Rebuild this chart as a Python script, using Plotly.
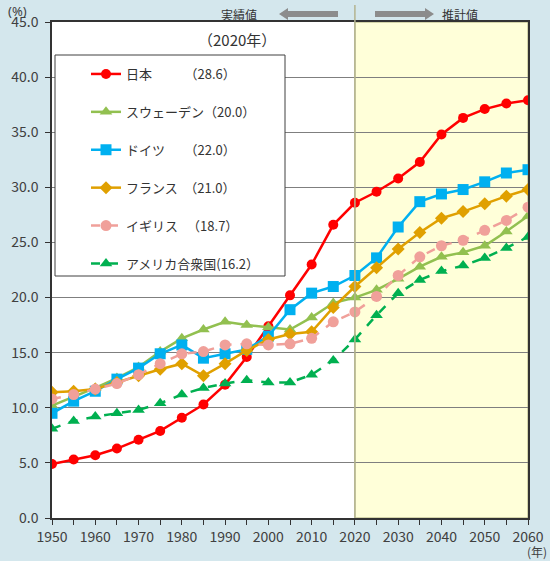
import plotly.graph_objects as go

# 高齢化率の推移（1950-2060）
years = list(range(1950, 2061, 5))

japan = [4.9, 5.3, 5.7, 6.3, 7.1, 7.9, 9.1, 10.3, 12.1, 14.6, 17.4, 20.2, 23.0, 26.6,
         28.6, 29.6, 30.8, 32.3, 34.8, 36.3, 37.1, 37.6, 37.9]
sweden = [10.2, 11.0, 11.8, 12.7, 13.7, 15.1, 16.3, 17.1, 17.8, 17.5, 17.3, 17.1, 18.2, 19.5,
          20.0, 20.7, 21.7, 22.8, 23.7, 24.1, 24.7, 26.0, 27.4]
germany = [9.5, 10.6, 11.5, 12.6, 13.6, 14.9, 15.7, 14.5, 14.9, 15.3, 16.5, 18.9, 20.4, 21.0,
           22.0, 23.6, 26.4, 28.7, 29.4, 29.8, 30.5, 31.3, 31.6]
france = [11.4, 11.5, 11.7, 12.3, 12.9, 13.5, 14.0, 12.9, 14.0, 15.2, 16.2, 16.7, 16.9, 19.1,
          21.0, 22.7, 24.4, 25.9, 27.2, 27.8, 28.5, 29.2, 29.8]
uk = [10.8, 11.2, 11.7, 12.2, 13.0, 14.0, 14.9, 15.1, 15.7, 15.8, 15.7, 15.8, 16.3, 17.8,
      18.7, 20.1, 22.0, 23.7, 24.7, 25.2, 26.1, 27.0, 28.2]
usa = [8.1, 8.8, 9.2, 9.5, 9.8, 10.4, 11.2, 11.8, 12.2, 12.5, 12.3, 12.3, 13.0, 14.3,
       16.2, 18.4, 20.4, 21.6, 22.4, 22.9, 23.6, 24.5, 25.5]

base_year = 2020
i_base = years.index(base_year)

x_ticks = list(range(1950, 2061, 5))
x_labels = [str(y) if y % 10 == 0 else "" for y in x_ticks]
y_ticks = list(range(0, 46, 5))

FONT = "Noto Sans CJK JP"
TXT = "#404040"

# plot area in pixels (used for placing decorations in paper units)
L, R, T, B = 52, 528, 22, 518
W, H = R - L, B - T


def px(x):
    return (x - L) / W


def py(y):
    return (B - y) / H


series = [
    # name, values, pad, color, symbol, size, dash, open-paren
    ("日本", japan, "\u3000\u3000\u2002", "#ff0000", "circle", 10, "solid", "（"),
    ("スウェーデン", sweden, "", "#92c050", "triangle-up", 11, "solid", "（"),
    ("ドイツ", germany, "\u3000\u2002", "#00b0f0", "square", 11, "solid", "（"),
    ("フランス", france, "\u3000", "#e0a000", "diamond", 10, "solid", "（"),
    ("イギリス", uk, "\u2002\u2009", "#f0a09a", "circle", 11, "dash", "（"),
    ("アメリカ合衆国", usa, "", "#00b050", "triangle-up", 11, "dash", "("),
]

fig = go.Figure()

for name, vals, pad, color, symbol, size, dash, lp in series:
    label = f"{name}{pad}{lp}{vals[i_base]:.1f}）"
    fig.add_trace(go.Scatter(
        x=years, y=vals, mode="lines+markers", name=label,
        legendgroup=name,
        line=dict(color=color, width=2.5, dash=dash),
        marker=dict(color=color, symbol=symbol, size=size),
    ))

shapes = [
    # 推計期間の背景
    dict(type="rect", xref="x", yref="y", x0=base_year, x1=2060, y0=0, y1=45,
         fillcolor="#ffffd9", line=dict(color="#a8a878", width=1), layer="below"),
    # 実績/推計の境界線
    dict(type="line", xref="x", yref="paper", x0=base_year, x1=base_year, y0=0, y1=py(5),
         line=dict(color="#b4b490", width=1.5), layer="above"),
    # 凡例の枠
    dict(type="rect", xref="paper", yref="paper",
         x0=px(55), x1=px(285), y0=py(276), y1=py(55),
         fillcolor="white", line=dict(color="#404040", width=1), layer="above"),
]


# 矢印（左：実績値、右：推計値）
def arrow(x_tip, x_tail):
    d = 1 if x_tip > x_tail else -1
    head = 9
    body = d * (abs(x_tip - x_tail) - head)
    return dict(
        type="path", xref="paper", yref="paper",
        xsizemode="pixel", ysizemode="pixel",
        xanchor=px(x_tail), yanchor=py(14),
        path=(f"M0,3 L{body},3 L{body},6 L{x_tip - x_tail},0 "
              f"L{body},-6 L{body},-3 L0,-3 Z"),
        fillcolor="#8c8c8c", line=dict(width=0), layer="above",
    )


shapes.append(arrow(279, 338))
shapes.append(arrow(434, 375))


def note(text, x, y, size, color="#333333", xanchor="center", yanchor="middle",
         family=FONT):
    return dict(text=text, xref="paper", yref="paper", x=px(x), y=py(y),
                xanchor=xanchor, yanchor=yanchor, showarrow=False,
                font=dict(size=size, color=color, family=family))


annotations = [
    note("（2020年）", 237, 40, 15),
    note("実績値", 239, 14, 12),
    note("推計値", 460, 14, 12),
    note("(%)", 17, 0, 13, TXT, yanchor="top", family="Noto Sans"),
    note("(年)", 537, 562, 12, TXT, yanchor="bottom"),
]

fig.update_layout(
    width=550, height=561,
    margin=dict(l=L, r=550 - R, t=T, b=561 - B, autoexpand=False),
    paper_bgcolor="#d4e7ed",
    plot_bgcolor="white",
    font=dict(family=FONT, color=TXT, size=14),
    showlegend=True,
    legend=dict(
        x=px(86), y=py(59), xanchor="left", yanchor="top",
        bgcolor="rgba(0,0,0,0)", borderwidth=0,
        font=dict(size=13, color="#333333", family=FONT),
        tracegroupgap=18, itemwidth=30,
    ),
    shapes=shapes,
    annotations=annotations,
    xaxis=dict(
        range=[1950, 2060], tickvals=x_ticks, ticktext=x_labels,
        ticks="outside", ticklen=5, tickcolor="#333333",
        showgrid=False, zeroline=False, automargin=False,
        showline=True, linecolor="#333333", linewidth=1.5, mirror=True,
        tickfont=dict(size=14, color=TXT),
    ),
    yaxis=dict(
        range=[0, 45], tickvals=y_ticks, tickformat=".1f",
        ticks="outside", ticklen=5, tickcolor="#333333",
        showgrid=True, gridcolor="#7f7f7f", gridwidth=1.2, zeroline=False,
        showline=True, linecolor="#333333", linewidth=1.5, mirror=True,
        automargin=False, ticklabelstandoff=4,
        tickfont=dict(size=14, color=TXT),
    ),
)

fig.write_html("out.html")
